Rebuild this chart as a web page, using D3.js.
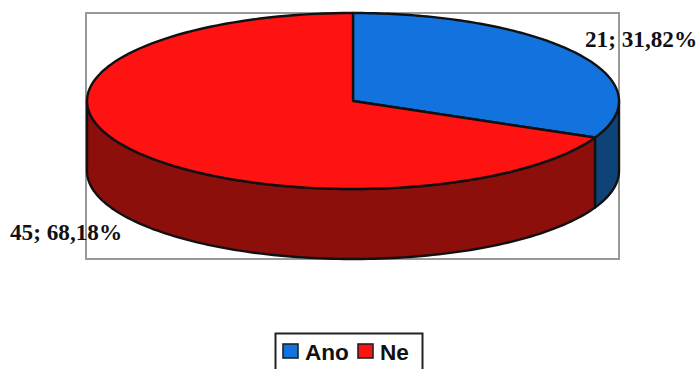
<!DOCTYPE html>
<html>
<head>
<meta charset="utf-8">
<script src="https://cdn.jsdelivr.net/npm/d3@7"></script>
<style>
html,body{margin:0;padding:0;background:#fff}
svg{display:block}
</style>
</head>
<body>
<script>
// Answers and their counts
const categories = ["Ano", "Ne"];
const counts = [21, 45];
const shares = ["31,82%", "68,18%"];
const topColors = ["#1273de", "#ff1212"];
const sideColors = ["#0e4377", "#8c0f0c"];

const width = 697, height = 369;
const cx = 353, cy = 101, rx = 266, ry = 88, depth = 70;
const outline = "#111";

const svg = d3.select("body").append("svg").attr("width", width).attr("height", height);

// Plot frame
svg.append("rect").attr("x", 86).attr("y", 13).attr("width", 533).attr("height", 246)
  .attr("fill", "none").attr("stroke", "#999").attr("stroke-width", 2);

const slices = d3.pie().sort(null)(counts);

// Disc projection: pie angle to a point on the tilted ellipse
const sx = d3.scaleLinear().domain([-1, 1]).range([cx - rx, cx + rx]);
const sy = d3.scaleLinear().domain([-1, 1]).range([cy - ry, cy + ry]);
const rim = a => [sx(Math.sin(a)), sy(-Math.cos(a))];
const line = d3.line();
const sweep = (a0, a1) => d3.range(0, 121).map(i => a0 + (a1 - a0) * i / 120);

// Side walls only exist on the near half, between 90 and 270 degrees
slices.forEach((s, i) => {
  const a0 = Math.max(s.startAngle, Math.PI / 2);
  const a1 = Math.min(s.endAngle, 3 * Math.PI / 2);
  if (a1 <= a0) return;
  const upper = sweep(a0, a1).map(rim);
  const lower = upper.slice().reverse().map(([x, y]) => [x, y + depth]);
  svg.append("path").attr("d", line(upper.concat(lower)) + "Z")
    .attr("fill", sideColors[i]).attr("stroke", outline).attr("stroke-width", 2.4)
    .attr("stroke-linejoin", "round");
});

// Top faces
slices.forEach((s, i) => {
  const pts = [[cx, cy]].concat(sweep(s.startAngle, s.endAngle).map(rim));
  svg.append("path").attr("d", line(pts) + "Z")
    .attr("fill", topColors[i]).attr("stroke", outline).attr("stroke-width", 2.4)
    .attr("stroke-linejoin", "round");
});

// Data labels
const labelFont = "'Liberation Serif', serif";
const labelPos = [[585, 47], [10, 240]];
categories.forEach((c, i) => {
  svg.append("text").attr("x", labelPos[i][0]).attr("y", labelPos[i][1])
    .attr("font-family", labelFont).attr("font-weight", "bold").attr("font-size", 23.2)
    .attr("fill", "#111").text(`${counts[i]}; ${shares[i]}`);
});

// Legend
svg.append("rect").attr("x", 275.5).attr("y", 333.5).attr("width", 147).attr("height", 40)
  .attr("fill", "#fff").attr("stroke", "#222").attr("stroke-width", 2);
const keyX = [283, 358], textX = [305, 380];
categories.forEach((c, i) => {
  svg.append("rect").attr("x", keyX[i]).attr("y", 344).attr("width", 15).attr("height", 14)
    .attr("fill", topColors[i]).attr("stroke", "#222").attr("stroke-width", 1.6);
  svg.append("text").attr("x", textX[i]).attr("y", 360)
    .attr("font-family", "'Liberation Sans', Arial, sans-serif").attr("font-weight", "bold")
    .attr("font-size", 22.6).attr("fill", "#111").text(c);
});
</script>
</body>
</html>
